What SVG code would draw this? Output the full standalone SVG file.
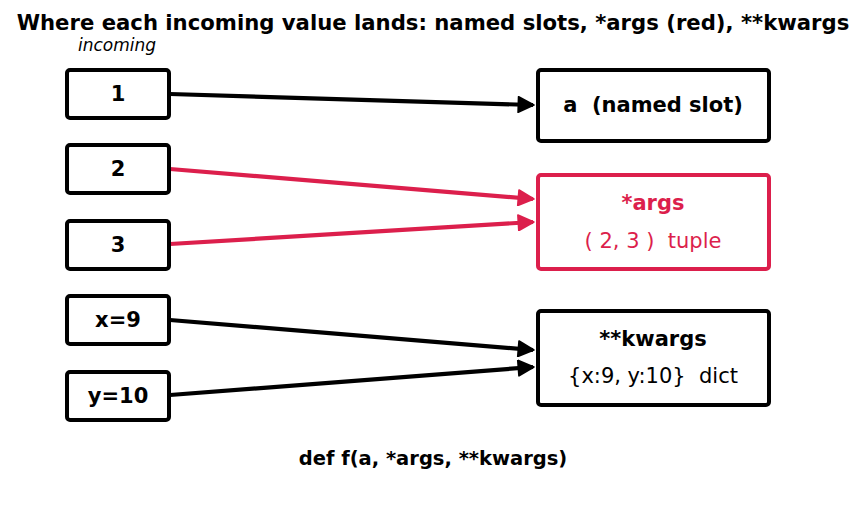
<svg xmlns="http://www.w3.org/2000/svg" width="866" height="508" viewBox="0 0 866 508">
<defs>
<marker id="ak" viewBox="0 0 10 10" refX="9" refY="5" markerWidth="4.5" markerHeight="4.1" orient="auto" markerUnits="strokeWidth"><path d="M0.5,0.5 L9.5,5 L0.5,9.5 z" fill="#000" stroke="#000" stroke-width="1" stroke-linejoin="round"/></marker>
<marker id="ar" viewBox="0 0 10 10" refX="9" refY="5" markerWidth="4.5" markerHeight="4.1" orient="auto" markerUnits="strokeWidth"><path d="M0.5,0.5 L9.5,5 L0.5,9.5 z" fill="#dc1f4c" stroke="#dc1f4c" stroke-width="1" stroke-linejoin="round"/></marker>
</defs>
<style>
text{font-family:"DejaVu Sans",sans-serif;text-anchor:middle;dominant-baseline:central;white-space:pre}
.b{font-weight:bold}
.box{fill:#fff;stroke:#000;stroke-width:4}
.rbox{fill:#fff;stroke:#dc1f4c;stroke-width:4}
.lk{stroke:#000;stroke-width:4.2;fill:none}
.lr{stroke:#dc1f4c;stroke-width:4.2;fill:none}
.red{fill:#dc1f4c}
</style>
<rect width="866" height="508" fill="#fff"/>
<text x="433" y="22.5" class="b" font-size="21.2">Where each incoming value lands: named slots, *args (red), **kwargs</text>
<text x="117" y="44.5" font-size="17" font-style="italic">incoming</text>
<g id="connectors">
<line class="lk" x1="170" y1="94" x2="533" y2="105" marker-end="url(#ak)"/>
<line class="lr" x1="170" y1="169" x2="533" y2="199" marker-end="url(#ar)"/>
<line class="lr" x1="170" y1="244" x2="533" y2="222" marker-end="url(#ar)"/>
<line class="lk" x1="170" y1="320" x2="533" y2="350" marker-end="url(#ak)"/>
<line class="lk" x1="170" y1="395" x2="533" y2="367" marker-end="url(#ak)"/>
</g>
<g id="in1"><rect class="box" x="67" y="70" width="102" height="48" rx="3"/><text x="118" y="94" class="b" font-size="21">1</text></g>
<g id="in2"><rect class="box" x="67" y="145" width="102" height="48" rx="3"/><text x="118" y="169" class="b" font-size="21">2</text></g>
<g id="in3"><rect class="box" x="67" y="221" width="102" height="48" rx="3"/><text x="118" y="245" class="b" font-size="21">3</text></g>
<g id="inx"><rect class="box" x="67" y="296" width="102" height="48" rx="3"/><text x="118" y="320" class="b" font-size="21">x=9</text></g>
<g id="iny"><rect class="box" x="67" y="372" width="102" height="48" rx="3"/><text x="118" y="396" class="b" font-size="21">y=10</text></g>
<g id="slot_a"><rect class="box" x="538" y="70" width="231" height="71" rx="3"/><text x="653" y="105" class="b" font-size="21" xml:space="preserve">a  (named slot)</text></g>
<g id="slot_args"><rect class="rbox" x="538" y="175" width="231" height="94" rx="3"/><text x="653" y="203" class="b red" font-size="21">*args</text><text x="653" y="241" class="red" font-size="21" xml:space="preserve">( 2, 3 )  tuple</text></g>
<g id="slot_kwargs"><rect class="box" x="538" y="311" width="231" height="94" rx="3"/><text x="653" y="339" class="b" font-size="21">**kwargs</text><text x="653" y="376" font-size="21" xml:space="preserve">{x:9, y:10}  dict</text></g>
<text x="433" y="458" class="b" font-size="19.5">def f(a, *args, **kwargs)</text>
</svg>
